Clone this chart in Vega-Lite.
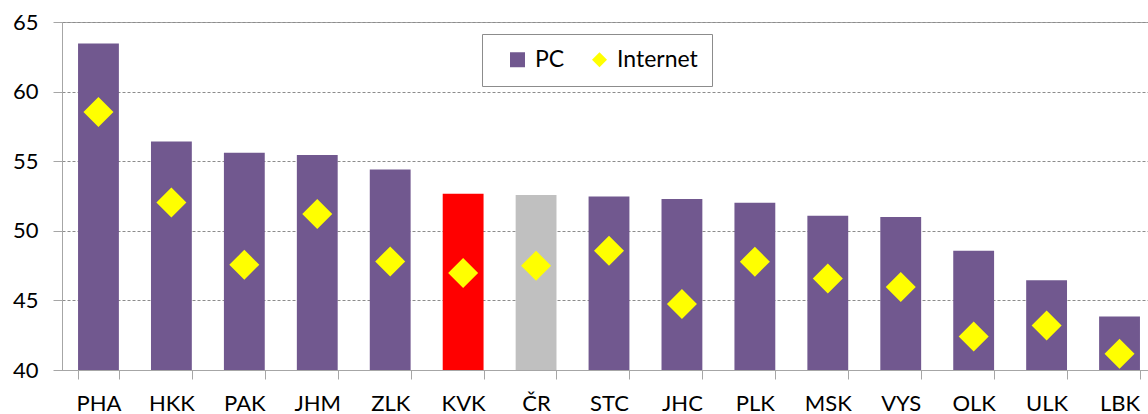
{
  "$schema": "https://vega.github.io/schema/vega-lite/v6.json",
  "width": 1086,
  "height": 348,
  "autosize": {"type": "none"},
  "padding": {"left": 62, "top": 22, "right": 0, "bottom": 44},
  "background": "white",
  "config": {
    "font": "Lato",
    "view": {"stroke": "#a6a6a6", "strokeWidth": 1},
    "axis": {"labelFont": "Lato", "labelColor": "#000000", "domainColor": "#a6a6a6", "tickColor": "#a6a6a6", "tickSize": 9, "labelFontSize": 22, "title": null}
  },
  "data": {
    "values": [
      {"kraj": "PHA", "pc": 63.46, "internet": 58.53},
      {"kraj": "HKK", "pc": 56.42, "internet": 52.04},
      {"kraj": "PAK", "pc": 55.61, "internet": 47.56},
      {"kraj": "JHM", "pc": 55.45, "internet": 51.2},
      {"kraj": "ZLK", "pc": 54.4, "internet": 47.8},
      {"kraj": "KVK", "pc": 52.67, "internet": 46.97},
      {"kraj": "ČR", "pc": 52.57, "internet": 47.49},
      {"kraj": "STC", "pc": 52.47, "internet": 48.57},
      {"kraj": "JHC", "pc": 52.28, "internet": 44.74},
      {"kraj": "PLK", "pc": 52.02, "internet": 47.78},
      {"kraj": "MSK", "pc": 51.08, "internet": 46.58},
      {"kraj": "VYS", "pc": 50.99, "internet": 45.96},
      {"kraj": "OLK", "pc": 48.57, "internet": 42.41},
      {"kraj": "ULK", "pc": 46.44, "internet": 43.2},
      {"kraj": "LBK", "pc": 43.85, "internet": 41.17}
    ]
  },
  "encoding": {
    "x": {
      "field": "kraj", "type": "nominal", "sort": null,
      "scale": {"range": [0, 1094], "paddingInner": 0.44, "paddingOuter": 0.22},
      "axis": {"tickBand": "extent", "labelAngle": 0, "labelPadding": 14, "grid": false}
    }
  },
  "layer": [
    {
      "mark": {"type": "bar"},
      "encoding": {
        "y": {
          "field": "pc", "type": "quantitative",
          "scale": {"domain": [40, 65], "zero": false, "nice": false},
          "axis": {"values": [40, 45, 50, 55, 60, 65], "grid": true, "gridDash": [3, 2], "gridColor": "#8c8c8c", "labelPadding": 15}
        },
        "y2": {"datum": 40},
        "color": {
          "condition": [
            {"test": "datum.kraj === 'KVK'", "value": "#ff0000"},
            {"test": "datum.kraj === 'ČR'", "value": "#c0c0c0"}
          ],
          "datum": "PC", "type": "nominal",
          "scale": {"domain": ["PC", "Internet"], "range": ["#71588f", "#ffff00"]},
          "legend": {
            "title": null, "orient": "none", "legendX": 420, "legendY": 12,
            "direction": "horizontal", "fillColor": "#ffffff", "strokeColor": "#8c8c8c",
            "padding": 14, "symbolOffset": 10, "symbolSize": 225, "symbolStrokeWidth": 0,
            "labelFontSize": 23, "labelFont": "Lato", "labelColor": "#000000", "labelOffset": 6, "columnPadding": 13,
            "encode": {"symbols": {"update": {"shape": {"signal": "datum.value === 'Internet' ? 'diamond' : 'square'"}}}}
          }
        }
      }
    },
    {
      "mark": {"type": "point", "shape": "diamond", "filled": true, "size": 900, "opacity": 1, "strokeWidth": 0},
      "encoding": {
        "y": {"field": "internet", "type": "quantitative"},
        "color": {"datum": "Internet", "type": "nominal"}
      }
    }
  ]
}
